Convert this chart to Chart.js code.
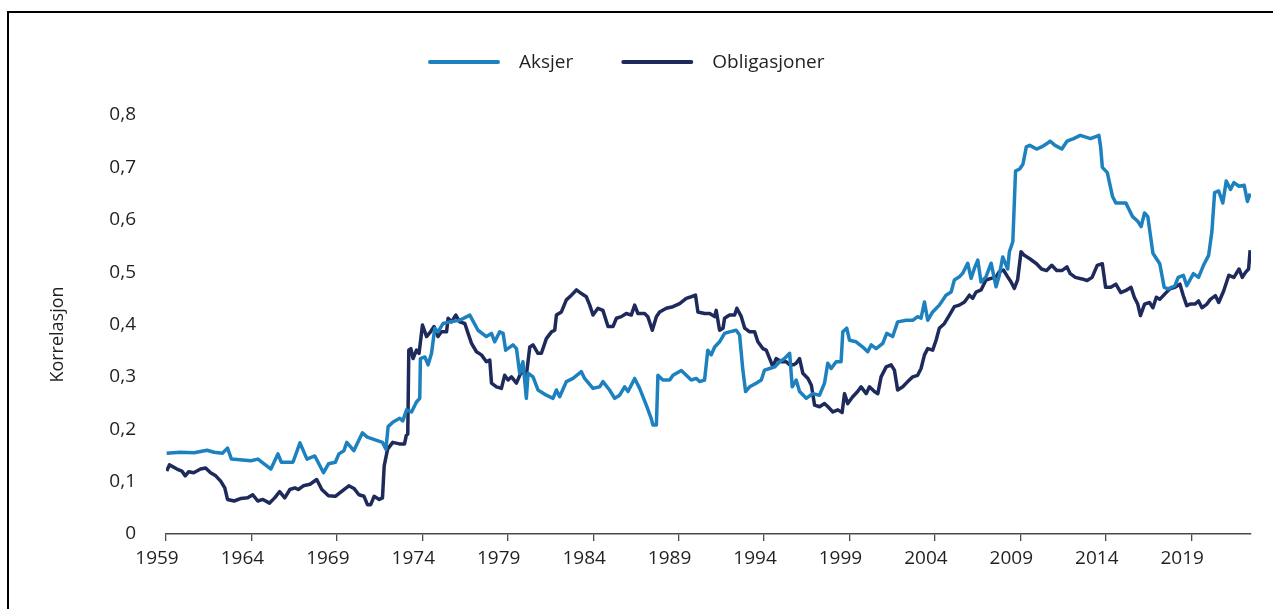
<!DOCTYPE html>
<html lang="no">
<head>
<meta charset="utf-8">
<title>Korrelasjon – aksjer og obligasjoner</title>
<script src="https://cdn.jsdelivr.net/npm/chart.js@4/dist/chart.umd.min.js"></script>
<style>
  html, body { margin: 0; padding: 0; background: #ffffff; }
  #wrap { position: relative; width: 1273px; height: 609px; overflow: hidden; background: #ffffff; }
  #frame {
    position: absolute; left: 7px; top: 11px; width: 1300px; height: 640px;
    border-left: 2px solid #000; border-top: 2px solid #000; pointer-events: none;
  }
  canvas { position: absolute; left: 0; top: 0; }
</style>
</head>
<body>
<div id="wrap">
  <canvas id="chart" width="1273" height="609"></canvas>
  <div id="frame"></div>
</div>
<script>
// Series labels and axis title
const seriesNames = ['Aksjer', 'Obligasjoner'];
const yAxisTitle = 'Korrelasjon';

// Aksjer: rolling correlation (decimal year, value)
const aksjerYears = [
  1959.04, 1959.82, 1960.64, 1961.40, 1961.81, 1962.30, 1962.60, 1962.83, 1963.97, 1964.38,
  1965.14, 1965.55, 1965.75, 1966.43, 1966.84, 1967.25, 1967.71, 1968.22, 1968.51, 1968.91,
  1969.12, 1969.41, 1969.58, 1969.99, 1970.49, 1970.78, 1971.67, 1971.87, 1972.00, 1972.29,
  1972.68, 1972.86, 1973.08, 1973.37, 1973.66, 1973.85, 1973.89, 1974.15, 1974.34, 1974.54,
  1974.73, 1974.92, 1975.22, 1975.61, 1976.19, 1976.78, 1977.26, 1977.75, 1978.05, 1978.24,
  1978.53, 1978.73, 1978.88, 1979.31, 1979.51, 1979.70, 1979.89, 1980.09, 1980.19, 1980.48,
  1980.77, 1981.26, 1981.65, 1981.85, 1982.04, 1982.43, 1982.82, 1983.31, 1983.50, 1983.99,
  1984.38, 1984.57, 1984.96, 1985.26, 1985.55, 1985.84, 1986.04, 1986.43, 1986.72, 1987.11,
  1987.40, 1987.50, 1987.70, 1987.79, 1988.08, 1988.48, 1988.67, 1989.16, 1989.45, 1989.74,
  1990.04, 1990.23, 1990.52, 1990.71, 1990.91, 1991.11, 1991.40, 1991.69, 1991.98, 1992.37,
  1992.57, 1992.76, 1992.92, 1993.16, 1993.54, 1993.84, 1994.03, 1994.33, 1994.62, 1994.91,
  1995.20, 1995.50, 1995.65, 1995.88, 1996.08, 1996.47, 1996.85, 1997.25, 1997.54, 1997.73,
  1997.93, 1998.22, 1998.51, 1998.61, 1998.84, 1999.00, 1999.39, 1999.78, 2000.07, 2000.27,
  2000.56, 2000.95, 2001.18, 2001.53, 2001.82, 2002.32, 2002.70, 2002.99, 2003.19, 2003.39,
  2003.58, 2003.87, 2004.26, 2004.65, 2004.95, 2005.14, 2005.43, 2005.63, 2005.92, 2006.12,
  2006.31, 2006.51, 2006.70, 2006.99, 2007.29, 2007.58, 2007.77, 2007.97, 2008.26, 2008.36,
  2008.56, 2008.72, 2008.96, 2009.15, 2009.35, 2009.55, 2009.95, 2010.24, 2010.54, 2010.74,
  2011.03, 2011.43, 2011.73, 2012.12, 2012.51, 2013.11, 2013.60, 2013.70, 2013.80, 2014.09,
  2014.39, 2014.59, 2015.18, 2015.37, 2015.57, 2015.87, 2016.07, 2016.27, 2016.46, 2016.76,
  2017.16, 2017.42, 2017.65, 2018.05, 2018.24, 2018.54, 2018.74, 2019.13, 2019.43, 2019.72,
  2020.02, 2020.21, 2020.37, 2020.61, 2020.85, 2021.05, 2021.30, 2021.50, 2021.80, 2022.10,
  2022.29, 2022.45
];
const aksjerValues = [
  0.154, 0.156, 0.155, 0.160, 0.156, 0.154, 0.164, 0.143, 0.140, 0.143,
  0.124, 0.153, 0.137, 0.137, 0.174, 0.143, 0.149, 0.117, 0.134, 0.137,
  0.153, 0.159, 0.175, 0.159, 0.193, 0.185, 0.175, 0.162, 0.205, 0.214,
  0.221, 0.216, 0.237, 0.233, 0.252, 0.259, 0.335, 0.338, 0.323, 0.345,
  0.393, 0.386, 0.402, 0.405, 0.408, 0.418, 0.389, 0.377, 0.383, 0.367,
  0.386, 0.383, 0.351, 0.361, 0.354, 0.307, 0.329, 0.259, 0.307, 0.300,
  0.275, 0.265, 0.259, 0.275, 0.262, 0.291, 0.297, 0.310, 0.297, 0.278,
  0.281, 0.291, 0.275, 0.259, 0.265, 0.281, 0.272, 0.297, 0.278, 0.246,
  0.220, 0.208, 0.208, 0.303, 0.294, 0.294, 0.303, 0.312, 0.303, 0.294,
  0.297, 0.291, 0.294, 0.351, 0.342, 0.357, 0.367, 0.383, 0.386, 0.389,
  0.380, 0.313, 0.272, 0.281, 0.288, 0.294, 0.313, 0.316, 0.319, 0.329,
  0.335, 0.345, 0.281, 0.294, 0.272, 0.259, 0.268, 0.265, 0.288, 0.326,
  0.316, 0.329, 0.329, 0.386, 0.393, 0.370, 0.367, 0.357, 0.348, 0.361,
  0.354, 0.364, 0.383, 0.377, 0.405, 0.408, 0.408, 0.415, 0.412, 0.443,
  0.408, 0.424, 0.437, 0.456, 0.462, 0.485, 0.491, 0.498, 0.517, 0.488,
  0.507, 0.523, 0.481, 0.491, 0.517, 0.472, 0.494, 0.529, 0.506, 0.539,
  0.558, 0.693, 0.697, 0.706, 0.739, 0.742, 0.735, 0.739, 0.745, 0.750,
  0.742, 0.735, 0.750, 0.755, 0.761, 0.755, 0.761, 0.739, 0.700, 0.690,
  0.645, 0.632, 0.632, 0.619, 0.606, 0.597, 0.587, 0.613, 0.606, 0.536,
  0.516, 0.471, 0.468, 0.474, 0.490, 0.494, 0.474, 0.497, 0.490, 0.513,
  0.532, 0.577, 0.652, 0.655, 0.632, 0.674, 0.658, 0.671, 0.664, 0.666,
  0.635, 0.650
];

// Obligasjoner: rolling correlation (decimal year, value)
const obligYears = [
  1959.04, 1959.20, 1959.64, 1959.93, 1960.13, 1960.33, 1960.62, 1961.02, 1961.32, 1961.61,
  1961.91, 1962.20, 1962.44, 1962.60, 1962.99, 1963.39, 1963.78, 1964.08, 1964.37, 1964.67,
  1965.06, 1965.36, 1965.65, 1965.95, 1966.25, 1966.54, 1966.74, 1967.04, 1967.43, 1967.82,
  1968.12, 1968.51, 1968.91, 1969.30, 1969.70, 1970.00, 1970.29, 1970.59, 1970.79, 1970.98,
  1971.18, 1971.48, 1971.67, 1971.77, 1971.97, 1972.27, 1972.66, 1972.96, 1973.06, 1973.15,
  1973.21, 1973.33, 1973.46, 1973.66, 1973.81, 1974.01, 1974.25, 1974.48, 1974.69, 1974.92,
  1975.12, 1975.42, 1975.51, 1975.71, 1975.96, 1976.19, 1976.49, 1976.68, 1976.88, 1977.17,
  1977.46, 1977.75, 1977.95, 1978.05, 1978.34, 1978.63, 1978.82, 1979.02, 1979.22, 1979.51,
  1979.80, 1980.09, 1980.29, 1980.48, 1980.77, 1980.97, 1981.26, 1981.56, 1981.75, 1981.85,
  1982.14, 1982.43, 1982.73, 1983.02, 1983.31, 1983.60, 1983.80, 1983.99, 1984.28, 1984.57,
  1984.87, 1985.16, 1985.36, 1985.65, 1985.94, 1986.23, 1986.43, 1986.62, 1987.01, 1987.20,
  1987.46, 1987.70, 1987.89, 1988.28, 1988.67, 1989.06, 1989.45, 1989.74, 1989.99, 1990.13,
  1990.52, 1990.82, 1991.11, 1991.20, 1991.40, 1991.60, 1991.69, 1991.98, 1992.28, 1992.41,
  1992.67, 1992.87, 1993.16, 1993.45, 1993.64, 1993.93, 1994.13, 1994.33, 1994.52, 1994.71,
  1995.01, 1995.30, 1995.49, 1995.73, 1995.88, 1996.08, 1996.27, 1996.57, 1996.77, 1996.96,
  1997.25, 1997.54, 1997.74, 1998.03, 1998.32, 1998.57, 1998.71, 1998.90, 1999.19, 1999.48,
  1999.68, 1999.98, 2000.17, 2000.46, 2000.66, 2000.85, 2001.15, 2001.44, 2001.63, 2001.82,
  2002.12, 2002.41, 2002.70, 2002.99, 2003.19, 2003.39, 2003.58, 2003.87, 2004.07, 2004.26,
  2004.56, 2004.85, 2005.14, 2005.43, 2005.73, 2006.02, 2006.21, 2006.41, 2006.70, 2006.99,
  2007.29, 2007.58, 2007.77, 2008.01, 2008.26, 2008.46, 2008.65, 2008.84, 2009.04, 2009.23,
  2009.53, 2009.95, 2010.24, 2010.54, 2010.84, 2011.13, 2011.43, 2011.73, 2011.92, 2012.22,
  2012.61, 2012.91, 2013.20, 2013.50, 2013.80, 2013.99, 2014.29, 2014.59, 2014.88, 2015.18,
  2015.48, 2015.67, 2015.87, 2016.03, 2016.27, 2016.56, 2016.76, 2016.96, 2017.16, 2017.45,
  2017.75, 2018.05, 2018.34, 2018.54, 2018.74, 2018.94, 2019.23, 2019.43, 2019.63, 2019.92,
  2020.12, 2020.42, 2020.61, 2020.91, 2021.20, 2021.50, 2021.80, 2021.99, 2022.19, 2022.36,
  2022.45
];
const obligValues = [
  0.120, 0.132, 0.124, 0.120, 0.111, 0.119, 0.117, 0.124, 0.126, 0.117,
  0.111, 0.101, 0.088, 0.066, 0.063, 0.068, 0.069, 0.075, 0.063, 0.066,
  0.059, 0.069, 0.081, 0.069, 0.085, 0.088, 0.085, 0.092, 0.095, 0.104,
  0.085, 0.073, 0.072, 0.082, 0.092, 0.087, 0.075, 0.072, 0.056, 0.056,
  0.072, 0.066, 0.069, 0.130, 0.162, 0.175, 0.172, 0.172, 0.188, 0.191,
  0.351, 0.354, 0.335, 0.351, 0.345, 0.399, 0.377, 0.386, 0.396, 0.377,
  0.386, 0.386, 0.412, 0.405, 0.418, 0.405, 0.402, 0.383, 0.364, 0.348,
  0.342, 0.329, 0.332, 0.288, 0.281, 0.278, 0.303, 0.294, 0.300, 0.288,
  0.310, 0.303, 0.357, 0.361, 0.345, 0.345, 0.373, 0.386, 0.389, 0.418,
  0.424, 0.447, 0.456, 0.466, 0.459, 0.453, 0.437, 0.418, 0.431, 0.427,
  0.396, 0.396, 0.412, 0.415, 0.421, 0.418, 0.437, 0.421, 0.421, 0.415,
  0.389, 0.415, 0.424, 0.431, 0.434, 0.440, 0.450, 0.453, 0.456, 0.424,
  0.421, 0.421, 0.415, 0.427, 0.389, 0.393, 0.412, 0.418, 0.418, 0.431,
  0.415, 0.393, 0.386, 0.386, 0.367, 0.354, 0.351, 0.335, 0.319, 0.335,
  0.329, 0.329, 0.323, 0.323, 0.326, 0.335, 0.307, 0.297, 0.284, 0.246,
  0.243, 0.249, 0.243, 0.233, 0.237, 0.232, 0.268, 0.249, 0.262, 0.272,
  0.281, 0.268, 0.281, 0.272, 0.268, 0.300, 0.319, 0.323, 0.313, 0.275,
  0.281, 0.291, 0.300, 0.303, 0.316, 0.342, 0.354, 0.351, 0.370, 0.393,
  0.402, 0.418, 0.434, 0.437, 0.443, 0.456, 0.450, 0.462, 0.466, 0.485,
  0.488, 0.491, 0.501, 0.504, 0.491, 0.481, 0.469, 0.485, 0.539, 0.532,
  0.526, 0.516, 0.506, 0.503, 0.513, 0.503, 0.503, 0.510, 0.497, 0.490,
  0.487, 0.484, 0.490, 0.513, 0.516, 0.471, 0.471, 0.477, 0.461, 0.465,
  0.471, 0.452, 0.439, 0.417, 0.439, 0.442, 0.432, 0.452, 0.448, 0.458,
  0.468, 0.471, 0.477, 0.455, 0.436, 0.439, 0.439, 0.445, 0.432, 0.439,
  0.448, 0.455, 0.442, 0.465, 0.494, 0.490, 0.506, 0.490, 0.500, 0.506,
  0.542
];

// Axis ticks
const xTickYears = [1959, 1964, 1969, 1974, 1979, 1984, 1989, 1994, 1999, 2004, 2009, 2014, 2019];
const yTickValues = [0, 0.1, 0.2, 0.3, 0.4, 0.5, 0.6, 0.7, 0.8];

const seriesColors = ['#1d81bf', '#1d2a5b'];
const textColor = '#231f20';
const fontFamily = "'Open Sans', 'Noto Sans', sans-serif";

Chart.defaults.font.family = fontFamily;
Chart.defaults.color = textColor;

function toPoints(xs, ys) {
  return xs.map((x, i) => ({ x: x, y: ys[i] }));
}

// Legend above the plot (line sample + label) and the rotated y-axis title
const chartDecor = {
  id: 'chartDecor',
  afterDraw(chart) {
    const ctx = chart.ctx;
    const sampleW = 68, gapText = 21, gapItem = 50, y = 62;
    let x = 430;
    ctx.save();
    ctx.font = '19px ' + fontFamily;
    ctx.textBaseline = 'middle';
    ctx.textAlign = 'left';
    chart.data.datasets.forEach(ds => {
      ctx.strokeStyle = ds.borderColor;
      ctx.lineWidth = 4;
      ctx.lineCap = 'round';
      ctx.beginPath();
      ctx.moveTo(x, y);
      ctx.lineTo(x + sampleW, y);
      ctx.stroke();
      x += sampleW + gapText;
      ctx.fillStyle = textColor;
      ctx.fillText(ds.label, x, y + 1);
      x += ctx.measureText(ds.label).width + gapItem;
    });

    // y-axis title, slightly below the plot's vertical centre
    const area = chart.chartArea;
    ctx.translate(58, (area.top + area.bottom) / 2 + 10);
    ctx.rotate(-Math.PI / 2);
    ctx.font = '18px ' + fontFamily;
    ctx.textAlign = 'center';
    ctx.fillText(yAxisTitle, 0, 0);
    ctx.restore();
  }
};

new Chart(document.getElementById('chart'), {
  type: 'line',
  data: {
    datasets: [
      {
        label: seriesNames[0],
        data: toPoints(aksjerYears, aksjerValues),
        borderColor: seriesColors[0],
        backgroundColor: seriesColors[0],
        borderWidth: 3.5,
        pointRadius: 0,
        tension: 0,
        borderJoinStyle: 'round'
      },
      {
        label: seriesNames[1],
        data: toPoints(obligYears, obligValues),
        borderColor: seriesColors[1],
        backgroundColor: seriesColors[1],
        borderWidth: 3.5,
        pointRadius: 0,
        tension: 0,
        borderJoinStyle: 'round'
      }
    ]
  },
  options: {
    responsive: false,
    animation: false,
    layout: { padding: { top: 115, right: 22, left: 0, bottom: 0 } },
    plugins: {
      legend: { display: false },
      tooltip: { enabled: false }
    },
    scales: {
      x: {
        type: 'linear',
        min: 1959,
        max: 2022.5,
        grid: {
          display: true,
          drawOnChartArea: false,
          drawTicks: true,
          tickLength: 7,
          color: '#4a4a4a',
          lineWidth: 1.3
        },
        border: { display: true, color: '#4a4a4a', width: 1.5 },
        afterBuildTicks(scale) {
          scale.ticks = xTickYears.map(v => ({ value: v }));
        },
        afterFit(scale) { scale.height = 75; },
        ticks: {
          autoSkip: false,
          maxRotation: 0,
          padding: 6,
          labelOffset: -9,
          color: textColor,
          font: { size: 19 },
          callback: v => String(v)
        }
      },
      y: {
        min: 0,
        max: 0.8,
        afterBuildTicks(scale) {
          scale.ticks = yTickValues.map(v => ({ value: v }));
        },
        afterFit(scale) { scale.width = 166; },
        grid: { display: false, drawTicks: false },
        border: { display: false },
        ticks: {
          padding: 30,
          color: textColor,
          font: { size: 19 },
          callback: v => (v === 0 ? '0' : v.toFixed(1).replace('.', ','))
        }
      }
    }
  },
  plugins: [chartDecor]
});
</script>
</body>
</html>
